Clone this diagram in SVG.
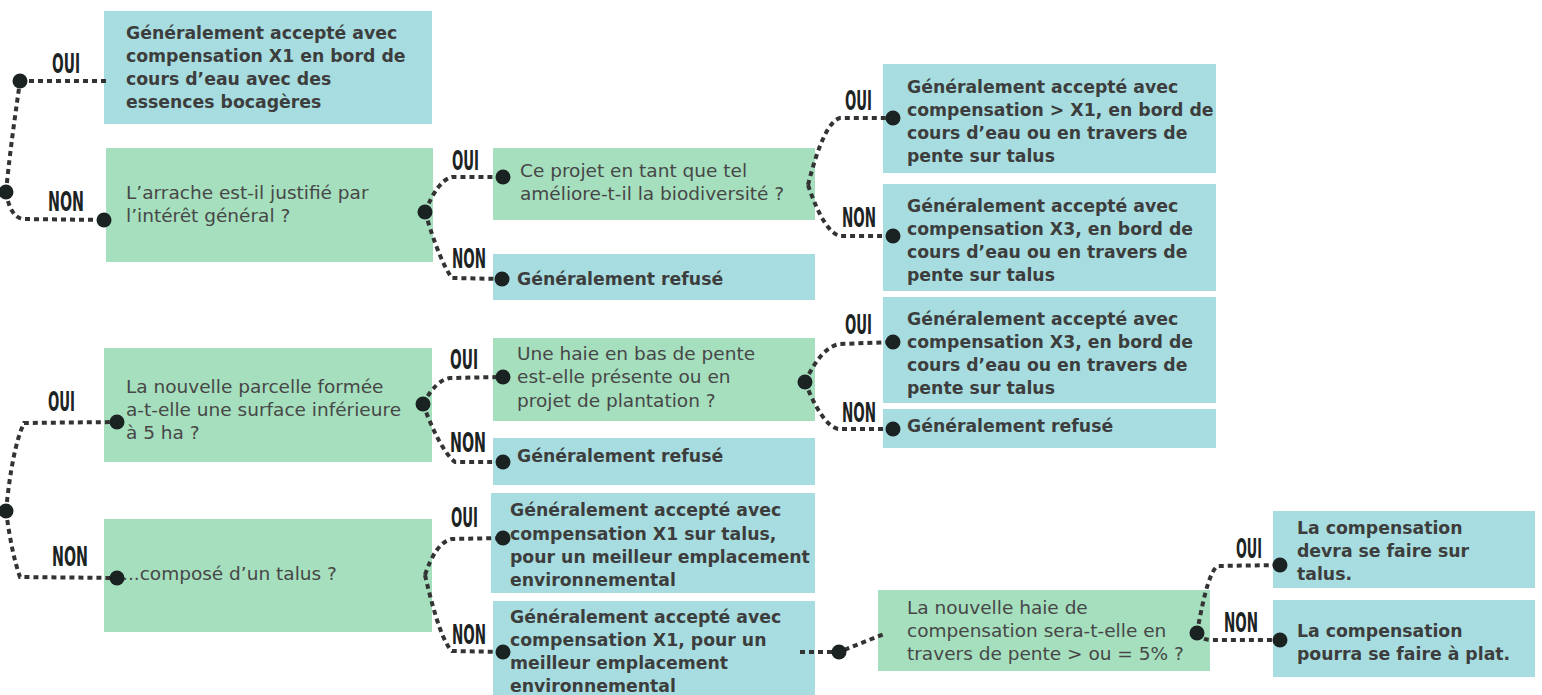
<svg xmlns="http://www.w3.org/2000/svg" width="1542" height="695" viewBox="0 0 1542 695">
<style>
.b{fill:#a7dde0}
.g{fill:#a5dfbe}
.tb{font-family:"DejaVu Sans","Liberation Sans",sans-serif;font-weight:bold;font-size:17.3px;fill:#3d3d3d}
.tr{font-family:"DejaVu Sans","Liberation Sans",sans-serif;font-size:18.5px;fill:#474747}
.lb{font-family:"DejaVu Sans Condensed","DejaVu Sans",sans-serif;font-weight:bold;font-size:27px;fill:#1c2323}
.c{fill:none;stroke:#333;stroke-width:4;stroke-dasharray:5 4}
.d{fill:#1a2222}
</style>
<rect width="1542" height="695" fill="#fff"/>
<g id="n1"><rect class="b" x="104" y="11" width="328" height="113"/><text class="tb"><tspan x="126" y="39">Généralement accepté avec</tspan><tspan x="126" y="62">compensation X1 en bord de</tspan><tspan x="126" y="85">cours d’eau avec des</tspan><tspan x="126" y="108">essences bocagères</tspan></text></g>
<g id="n2"><rect class="g" x="106" y="148" width="327" height="114"/><text class="tr"><tspan x="126" y="199">L’arrache est-il justifié par</tspan><tspan x="126" y="222">l’intérêt général ?</tspan></text></g>
<g id="n3"><rect class="g" x="493" y="148" width="322" height="72"/><text class="tr"><tspan x="520" y="177">Ce projet en tant que tel</tspan><tspan x="520" y="200">améliore-t-il la biodiversité ?</tspan></text></g>
<g id="n4"><rect class="b" x="493" y="254" width="322" height="46"/><text class="tb" x="517" y="285">Généralement refusé</text></g>
<g id="n5"><rect class="b" x="883" y="64" width="333" height="109"/><text class="tb"><tspan x="907" y="93">Généralement accepté avec</tspan><tspan x="907" y="116">compensation &gt; X1, en bord de</tspan><tspan x="907" y="139">cours d’eau ou en travers de</tspan><tspan x="907" y="162">pente sur talus</tspan></text></g>
<g id="n6"><rect class="b" x="883" y="184" width="333" height="107"/><text class="tb"><tspan x="907" y="212">Généralement accepté avec</tspan><tspan x="907" y="235">compensation X3, en bord de</tspan><tspan x="907" y="258">cours d’eau ou en travers de</tspan><tspan x="907" y="281">pente sur talus</tspan></text></g>
<g id="n7"><rect class="b" x="883" y="297" width="333" height="106"/><text class="tb"><tspan x="907" y="325">Généralement accepté avec</tspan><tspan x="907" y="348">compensation X3, en bord de</tspan><tspan x="907" y="371">cours d’eau ou en travers de</tspan><tspan x="907" y="394">pente sur talus</tspan></text></g>
<g id="n8"><rect class="b" x="883" y="409" width="333" height="39"/><text class="tb" x="907" y="432">Généralement refusé</text></g>
<g id="n9"><rect class="g" x="104" y="348" width="328" height="114"/><text class="tr"><tspan x="126" y="393">La nouvelle parcelle formée</tspan><tspan x="126" y="416">a-t-elle une surface inférieure</tspan><tspan x="126" y="439">à 5 ha ?</tspan></text></g>
<g id="n10"><rect class="g" x="493" y="338" width="322" height="83"/><text class="tr"><tspan x="517" y="360">Une haie en bas de pente</tspan><tspan x="517" y="383">est-elle présente ou en</tspan><tspan x="517" y="407">projet de plantation ?</tspan></text></g>
<g id="n11"><rect class="b" x="493" y="438" width="322" height="47"/><text class="tb" x="517" y="462">Généralement refusé</text></g>
<g id="n12"><rect class="b" x="491" y="493" width="324" height="100"/><text class="tb"><tspan x="510" y="516">Généralement accepté avec</tspan><tspan x="510" y="540">compensation X1 sur talus,</tspan><tspan x="510" y="563">pour un meilleur emplacement</tspan><tspan x="510" y="586">environnemental</tspan></text></g>
<g id="n13"><rect class="b" x="493" y="601" width="322" height="94"/><text class="tb"><tspan x="510" y="623">Généralement accepté avec</tspan><tspan x="510" y="646">compensation X1, pour un</tspan><tspan x="510" y="669">meilleur emplacement</tspan><tspan x="510" y="692">environnemental</tspan></text></g>
<g id="n14"><rect class="g" x="104" y="519" width="328" height="113"/><text class="tr" x="122" y="580">...composé d’un talus ?</text></g>
<g id="n15"><rect class="g" x="878" y="590" width="332" height="81"/><text class="tr"><tspan x="907" y="614">La nouvelle haie de</tspan><tspan x="907" y="637">compensation sera-t-elle en</tspan><tspan x="907" y="660">travers de pente &gt; ou = 5% ?</tspan></text></g>
<g id="n16"><rect class="b" x="1273" y="511" width="262" height="77"/><text class="tb"><tspan x="1297" y="534">La compensation</tspan><tspan x="1297" y="557">devra se faire sur</tspan><tspan x="1297" y="580">talus.</tspan></text></g>
<g id="n17"><rect class="b" x="1273" y="600" width="262" height="77"/><text class="tb"><tspan x="1297" y="637">La compensation</tspan><tspan x="1297" y="660">pourra se faire à plat.</tspan></text></g>
<g id="connectors">
<path class="c" d="M20 81 L108 81"/>
<path class="c" d="M6 192 C10 150 16 110 20 81"/>
<path class="c" d="M6 192 Q10 216 22 219 L104 220"/>
<path class="c" d="M425 212 Q438 180 452 177 L503 177"/>
<path class="c" d="M425 212 Q440 262 452 278 L502 279"/>
<path class="c" d="M808 185 Q824 122 840 118 L893 118"/>
<path class="c" d="M808 185 Q824 232 840 236 L893 236"/>
<path class="c" d="M6 511 C10 470 16 440 24 423 L117 422"/>
<path class="c" d="M6 511 C10 540 14 560 20 577 L117 578"/>
<path class="c" d="M423 404 Q436 380 450 378 L503 377"/>
<path class="c" d="M423 404 Q440 450 455 462 L503 462"/>
<path class="c" d="M805 382 Q822 346 840 344 L893 342"/>
<path class="c" d="M805 382 Q822 425 838 429 L893 429"/>
<path class="c" d="M425 575 Q436 542 452 539 L503 538"/>
<path class="c" d="M425 575 Q440 640 452 651 L503 652"/>
<path class="c" d="M800 652 L839 652 L884 634"/>
<path class="c" d="M1197 633 Q1208 570 1218 566 L1280 565"/>
<path class="c" d="M1197 633 Q1202 640 1212 640 L1280 640"/>
<g class="d">
<circle cx="20" cy="81" r="7.5"/><circle cx="6" cy="192" r="7.5"/><circle cx="104" cy="220" r="7.5"/>
<circle cx="425" cy="212" r="7.5"/><circle cx="503" cy="177" r="7.5"/><circle cx="502" cy="279" r="7.5"/>
<circle cx="893" cy="118" r="7.5"/><circle cx="893" cy="236" r="7.5"/>
<circle cx="6" cy="511" r="7.5"/><circle cx="117" cy="422" r="7.5"/><circle cx="117" cy="578" r="7.5"/>
<circle cx="423" cy="404" r="7.5"/><circle cx="503" cy="377" r="7.5"/><circle cx="503" cy="462" r="7.5"/>
<circle cx="805" cy="382" r="7.5"/><circle cx="893" cy="342" r="7.5"/><circle cx="893" cy="429" r="7.5"/>
<circle cx="503" cy="538" r="7.5"/><circle cx="503" cy="652" r="7.5"/>
<circle cx="839" cy="652" r="7.5"/><circle cx="1197" cy="633" r="7.5"/><circle cx="1280" cy="565" r="7.5"/><circle cx="1280" cy="640" r="7.5"/>
</g>
<g class="lb">
<text x="52" y="73" textLength="28" lengthAdjust="spacingAndGlyphs">OUI</text>
<text x="48" y="211" textLength="36" lengthAdjust="spacingAndGlyphs">NON</text>
<text x="452" y="170" textLength="27" lengthAdjust="spacingAndGlyphs">OUI</text>
<text x="452" y="268" textLength="34" lengthAdjust="spacingAndGlyphs">NON</text>
<text x="845" y="110" textLength="27" lengthAdjust="spacingAndGlyphs">OUI</text>
<text x="842" y="227" textLength="34" lengthAdjust="spacingAndGlyphs">NON</text>
<text x="845" y="334" textLength="27" lengthAdjust="spacingAndGlyphs">OUI</text>
<text x="842" y="422" textLength="34" lengthAdjust="spacingAndGlyphs">NON</text>
<text x="450" y="369" textLength="28" lengthAdjust="spacingAndGlyphs">OUI</text>
<text x="450" y="452" textLength="36" lengthAdjust="spacingAndGlyphs">NON</text>
<text x="48" y="411" textLength="27" lengthAdjust="spacingAndGlyphs">OUI</text>
<text x="52" y="566" textLength="36" lengthAdjust="spacingAndGlyphs">NON</text>
<text x="451" y="527" textLength="27" lengthAdjust="spacingAndGlyphs">OUI</text>
<text x="452" y="644" textLength="34" lengthAdjust="spacingAndGlyphs">NON</text>
<text x="1236" y="558" textLength="26" lengthAdjust="spacingAndGlyphs">OUI</text>
<text x="1224" y="632" textLength="34" lengthAdjust="spacingAndGlyphs">NON</text>
</g>
</g>
</svg>
